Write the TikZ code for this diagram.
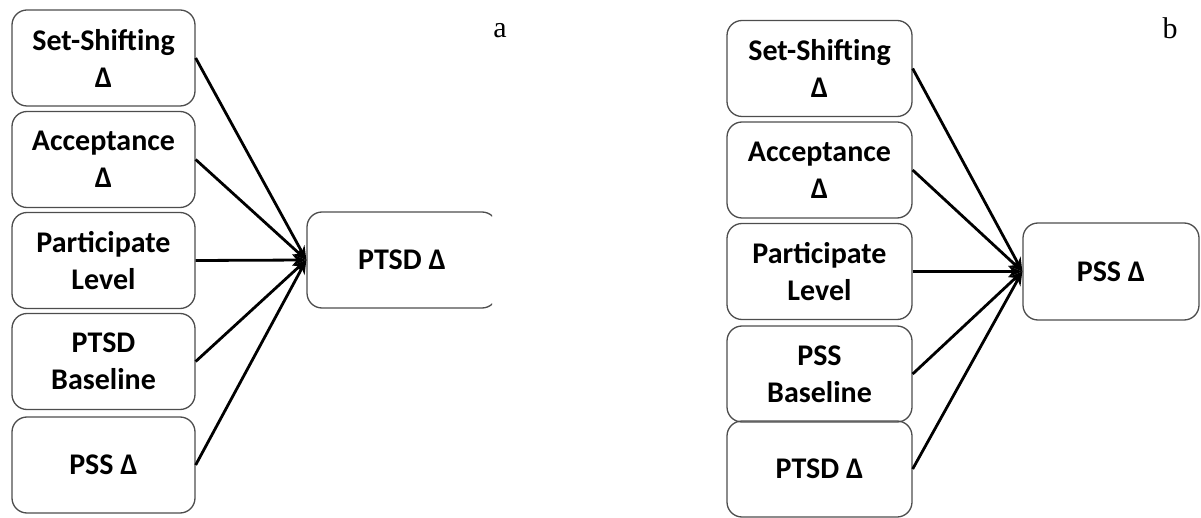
\documentclass[tikz,border=0pt]{standalone}
\usepackage{fontspec}
\setmainfont{Liberation Serif}
\newfontfamily\boxfont{Carlito}
\usetikzlibrary{arrows.meta}
\definecolor{edgegray}{HTML}{4D4D4D}
\tikzset{
  factor/.style={draw=edgegray, line width=1.3pt, rounded corners=15pt,
    minimum width=183pt, minimum height=96pt, inner sep=0pt, align=center,
    font=\boxfont\bfseries\fontsize{30}{37}\selectfont},
  outcome/.style={factor, minimum height=96pt},
  path/.style={line width=2.8pt, black, -{Stealth[length=14pt,width=11pt]}},
  panel/.style={anchor=base, inner sep=0pt, font=\fontsize{30}{34}\selectfont}
}
\begin{document}
\begin{tikzpicture}[x=1pt,y=-1pt]
\useasboundingbox (0,0) rectangle (1201,518);

% panel a: predictors of PTSD change
\node[factor] (a1) at (103.5,58)  {Set-Shifting\\Δ};
\node[factor] (a2) at (103.5,159.5) {Acceptance\\Δ};
\node[factor] (a3) at (103.5,260.5) {Participate\\Level};
\node[factor] (a4) at (103.5,361.5) {PTSD\\Baseline};
\node[factor] (a5) at (103.5,465) {PSS Δ};
\begin{scope}
  \clip (0,0) rectangle (492,518);
  \node[outcome, minimum width=190pt] (ay) at (402,260) {PTSD Δ};
\end{scope}
\foreach \s in {a1,a2,a3,a4,a5} \draw[path] (\s.east) -- (ay.west);
\node[panel] (la) at (500,38) {a};

% panel b: predictors of PSS change
\node[factor, minimum width=185pt] (b1) at (819.5,68.5)  {Set-Shifting\\Δ};
\node[factor, minimum width=185pt] (b2) at (819.5,170) {Acceptance\\Δ};
\node[factor, minimum width=185pt] (b3) at (819.5,271.5) {Participate\\Level};
\node[factor, minimum width=185pt] (b4) at (819.5,374) {PSS\\Baseline};
\node[factor, minimum width=185pt] (b5) at (819.5,469) {PTSD Δ};
\node[outcome, minimum width=176pt, minimum height=97pt] (by) at (1111,271.5) {PSS Δ};
\foreach \s in {b1,b2,b3,b4,b5} \draw[path] (\s.east) -- (by.west);
\node[panel] (lb) at (1170,39) {b};
\end{tikzpicture}
\end{document}
